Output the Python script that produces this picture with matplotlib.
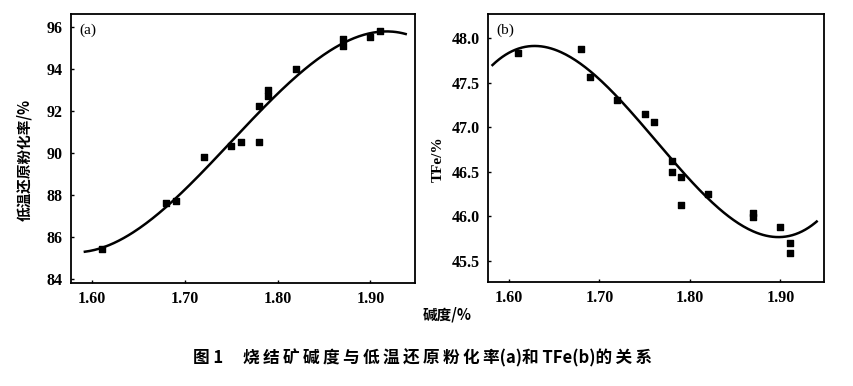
import numpy as np
import matplotlib.pyplot as plt

# basicity of sinter
basicity_a = [1.61, 1.68, 1.69, 1.72, 1.75, 1.76, 1.78, 1.78, 1.79, 1.79, 1.82, 1.87, 1.87, 1.90, 1.91]
rdi_a = [85.4, 87.6, 87.7, 89.8, 90.3, 90.5, 90.5, 92.2, 93.0, 92.7, 94.0, 95.4, 95.1, 95.5, 95.8]

basicity_b = [1.61, 1.68, 1.69, 1.72, 1.75, 1.76, 1.78, 1.78, 1.79, 1.79, 1.82, 1.87, 1.87, 1.90, 1.91, 1.91]
tfe_b = [47.83, 47.88, 47.56, 47.30, 47.15, 47.06, 46.62, 46.50, 46.44, 46.13, 46.25, 46.03, 45.99, 45.88, 45.70, 45.59]

x_ticks = [1.60, 1.70, 1.80, 1.90]
x_ticklabels = ["1.60", "1.70", "1.80", "1.90"]
y_ticks_a = [84, 86, 88, 90, 92, 94, 96]
y_ticks_b = [45.5, 46.0, 46.5, 47.0, 47.5, 48.0]

SERIF = ["Liberation Serif", "DejaVu Serif"]
CJK = ["Noto Sans CJK SC", "DejaVu Sans"]

plt.rcParams["font.family"] = SERIF
plt.rcParams["font.weight"] = "bold"


def draw_panel(ax, x, y, curve_range, xlim, ylim, yticks, yfmt, tag):
    # cubic regression curve through the measured points
    coef = np.polyfit(x, y, 3)
    xx = np.linspace(curve_range[0], curve_range[1], 200)
    ax.plot(xx, np.polyval(coef, xx), color="black", lw=1.8)
    ax.scatter(x, y, marker="s", s=20, color="black", zorder=3)
    ax.set_xlim(*xlim)
    ax.set_ylim(*ylim)
    ax.set_xticks(x_ticks)
    ax.set_xticklabels(x_ticklabels)
    ax.set_yticks(yticks)
    ax.set_yticklabels([yfmt.format(v) for v in yticks])
    ax.text(0.025, 0.965, tag, transform=ax.transAxes, ha="left", va="top",
            fontsize=11, fontweight="normal")
    for s in ax.spines.values():
        s.set_linewidth(1.3)
    ax.tick_params(direction="in", length=2.5, width=1, labelsize=11.5, pad=6)


fig = plt.figure(figsize=(8.54, 3.86), dpi=100)
ax_a = fig.add_axes([0.0831, 0.2668, 0.4028, 0.6969])
ax_b = fig.add_axes([0.5714, 0.2694, 0.3934, 0.6943])

draw_panel(ax_a, basicity_a, rdi_a, (1.592, 1.938), (1.577, 1.948), (83.8, 96.6),
           y_ticks_a, "{:.0f}", "(a)")
draw_panel(ax_b, basicity_b, tfe_b, (1.582, 1.940), (1.577, 1.948), (45.26, 48.27),
           y_ticks_b, "{:.1f}", "(b)")

ax_a.set_ylabel("低温还原粉化率/%", family=CJK, fontsize=10.5, fontweight="bold")
ax_a.yaxis.set_label_coords(-0.113, 0.457)
ax_b.set_ylabel("TFe/%", fontsize=11, fontweight="bold")
ax_b.yaxis.set_label_coords(-0.128, 0.459)

fig.text(0.523, 0.185, "碱度/%", family=CJK, fontsize=10.5, fontweight="bold",
         ha="center", va="center")

# caption, letter-spaced like the printed figure
caption = ("\u2009".join("烧结矿碱度与低温还原粉化率") + "(a)和 TFe(b)"
           + "\u2009".join("的关系"))
fig.text(0.226, 0.0725, "图 1", family=CJK, fontsize=12, fontweight="bold",
         ha="left", va="center")
fig.text(0.285, 0.0725, caption, family=CJK, fontsize=12, fontweight="bold",
         ha="left", va="center")

fig.savefig("out.png", dpi=100)
